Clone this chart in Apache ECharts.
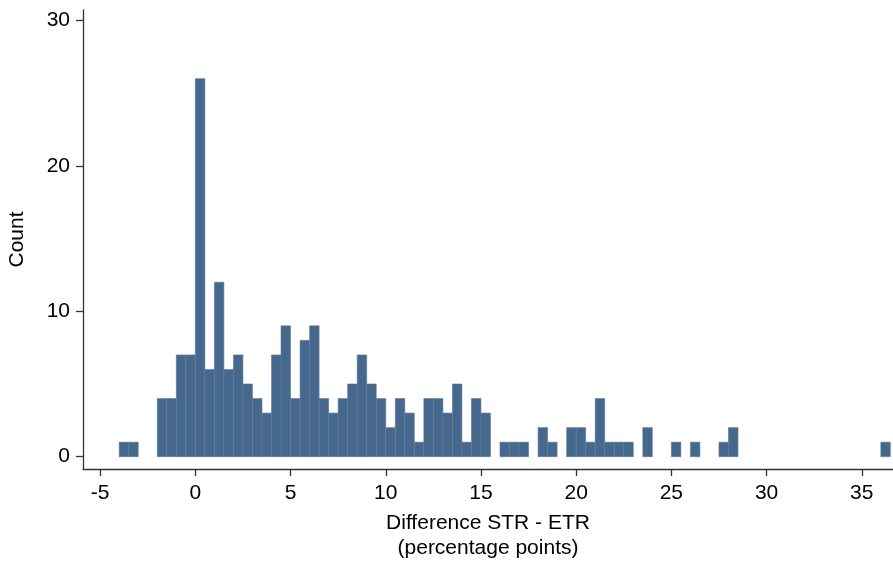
<!DOCTYPE html>
<html>
<head>
<meta charset="utf-8">
<script src="https://cdn.jsdelivr.net/npm/echarts@6/dist/echarts.min.js"></script>
<style>
  html, body { margin: 0; padding: 0; background: #fff; }
  #chart { width: 893px; height: 562px; }
</style>
</head>
<body>
<div id="chart"></div>
<script>
// Histogram of STR - ETR differences, bins of 0.5 percentage points
const binWidth = 0.5;
const binLefts = [
  -4, -3.5, -2, -1.5, -1, -0.5, 0, 0.5, 1, 1.5, 2, 2.5, 3, 3.5, 4, 4.5, 5, 5.5, 6, 6.5,
  7, 7.5, 8, 8.5, 9, 9.5, 10, 10.5, 11, 11.5, 12, 12.5, 13, 13.5, 14, 14.5, 15,
  16, 16.5, 17, 18, 18.5, 19.5, 20, 20.5, 21, 21.5, 22, 22.5, 23.5, 25, 26, 27.5, 28, 36
];
const binCounts = [
  1, 1, 4, 4, 7, 7, 26, 6, 12, 6, 7, 5, 4, 3, 7, 9, 4, 8, 9, 4,
  3, 4, 5, 7, 5, 4, 2, 4, 3, 1, 4, 4, 3, 5, 1, 4, 3,
  1, 1, 1, 2, 1, 2, 2, 1, 4, 1, 1, 1, 2, 1, 1, 1, 2, 1
];
const xTicks = [-5, 0, 5, 10, 15, 20, 25, 30, 35];
const yTicks = [0, 10, 20, 30];

const barData = binLefts.map((x, i) => [x, binCounts[i]]);

const fontFam = 'Liberation Sans, Arial, sans-serif';
const chart = echarts.init(document.getElementById('chart'), null, { renderer: 'canvas' });

chart.setOption({
  animation: false,
  backgroundColor: '#ffffff',
  grid: { left: 83, right: 0, top: 10, bottom: 93, containLabel: false, outerBoundsMode: 'none' },
  xAxis: {
    type: 'value',
    min: -5.9,
    max: 36.64,
    name: 'Difference STR - ETR\n(percentage points)',
    nameLocation: 'middle',
    nameGap: 42,
    nameTextStyle: { fontFamily: fontFam, fontSize: 21, color: '#000', lineHeight: 25, verticalAlign: 'top' },
    axisLine: { show: true, onZero: false, lineStyle: { color: '#333', width: 1.3 } },
    axisTick: { show: true, inside: false, customValues: xTicks, length: 7, lineStyle: { color: '#333', width: 1.3 } },
    axisLabel: { customValues: xTicks, fontFamily: fontFam, fontSize: 21, color: '#000', margin: 14 },
    splitLine: { show: false }
  },
  yAxis: {
    type: 'value',
    min: -0.846,
    max: 30.72,
    name: 'Count',
    nameLocation: 'middle',
    nameRotate: 90,
    nameGap: 55,
    nameTextStyle: { fontFamily: fontFam, fontSize: 21, color: '#000' },
    axisLine: { show: true, onZero: false, lineStyle: { color: '#333', width: 1.3 } },
    axisTick: { show: true, inside: false, customValues: yTicks, length: 7, lineStyle: { color: '#333', width: 1.3 } },
    axisLabel: { customValues: yTicks, fontFamily: fontFam, fontSize: 21, color: '#000', margin: 13 },
    splitLine: { show: false }
  },
  series: [{
    type: 'custom',
    data: barData,
    renderItem: function (params, api) {
      const x0 = api.value(0);
      const c = api.value(1);
      const topLeft = api.coord([x0, c]);
      const bottomRight = api.coord([x0 + binWidth, 0]);
      return {
        type: 'rect',
        shape: {
          x: topLeft[0],
          y: topLeft[1],
          width: bottomRight[0] - topLeft[0],
          height: bottomRight[1] - topLeft[1]
        },
        style: { fill: '#46688c', stroke: '#5c7b9b', lineWidth: 0.6 }
      };
    }
  }]
});
</script>
</body>
</html>
